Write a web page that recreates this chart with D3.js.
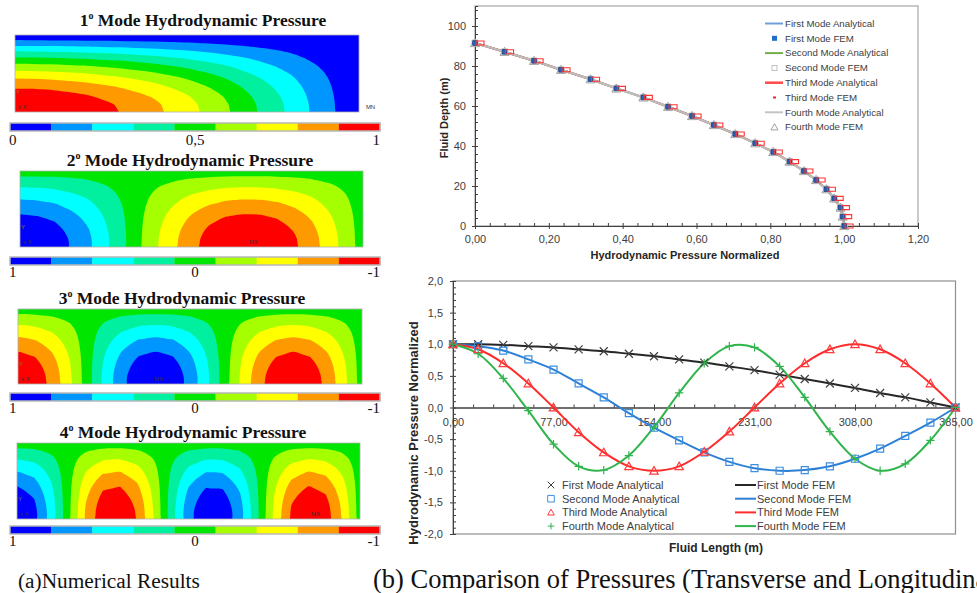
<!DOCTYPE html>
<html>
<head>
<meta charset="utf-8">
<script src="https://cdnjs.cloudflare.com/ajax/libs/d3/7.8.5/d3.min.js"></script>
<style>
  body { margin: 0; background: #fff; }
  svg { display: block; background: #fff; }
  .serif { font-family: "Liberation Serif", "Times New Roman", serif; }
  .sans { font-family: "Liberation Sans", Arial, sans-serif; }
</style>
</head>
<body>
<svg id="fig" width="977" height="593"></svg>
<script>

// ---- data ----

// vertical profile (top right chart): height above bed (m) and normalized pressure
var depth = [91.5, 87.1, 82.6, 78.1, 73.4, 68.8, 64.3, 59.6, 55.0, 50.5, 46.0,
             41.4, 37.0, 32.2, 27.5, 23.0, 18.4, 13.8, 9.2, 4.7, 0.0];
var depthPressure = [0.00, 0.08, 0.16, 0.233, 0.313, 0.383, 0.456, 0.523, 0.588, 0.647, 0.705,
                     0.759, 0.808, 0.852, 0.891, 0.924, 0.952, 0.973, 0.990, 0.996, 1.00];

// longitudinal profiles (bottom right chart)
var lengthX = [0, 19.25, 38.5, 57.75, 77, 96.25, 115.5, 134.75, 154, 173.25, 192.5,
               211.75, 231, 250.25, 269.5, 288.75, 308, 327.25, 346.5, 365.75, 385];
var longMode1 = [1.00, 1.00, 0.99, 0.97, 0.95, 0.92, 0.89, 0.85, 0.81, 0.76, 0.71,
                 0.65, 0.59, 0.52, 0.45, 0.38, 0.31, 0.23, 0.16, 0.08, 0.00];
var longMode2 = [1.00, 0.97, 0.90, 0.76, 0.60, 0.38, 0.16, -0.09, -0.32, -0.52, -0.71,
                 -0.86, -0.96, -1.00, -0.99, -0.93, -0.81, -0.65, -0.45, -0.24, 0.00];
var longMode3 = [1.00, 0.92, 0.70, 0.38, 0.00, -0.39, -0.71, -0.93, -1.00, -0.93, -0.70,
                 -0.38, 0.00, 0.38, 0.70, 0.92, 1.00, 0.92, 0.70, 0.38, 0.00];
var longMode4 = [1.00, 0.85, 0.46, -0.05, -0.58, -0.93, -0.99, -0.76, -0.31, 0.23, 0.70,
                 0.97, 0.95, 0.65, 0.16, -0.38, -0.81, -1.00, -0.89, -0.52, 0.00];

// left panels: which mode, FE sign of the shape, colour bar ends (blue end, red end)
var panelModes = [longMode1, longMode2, longMode3, longMode4];
var panelNumbers = ["1", "2", "3", "4"];
var panelSigns = [1, 1, -1, 1];
var panelLegend = [[0, 1], [1, -1], [1, -1], [1, -1]];
var panelLabels = [["0", "0,5", "1"], ["1", "0", "-1"], ["1", "0", "-1"], ["1", "0", "-1"]];
var panelMarks = ["MN", "MX", "MN", "MX"];

// tick labels
var topXTicks = [0, 0.2, 0.4, 0.6, 0.8, 1.0, 1.2];
var topXLabels = ["0,00", "0,20", "0,40", "0,60", "0,80", "1,00", "1,20"];
var topYTicks = [0, 20, 40, 60, 80, 100];
var topYLabels = ["0", "20", "40", "60", "80", "100"];
var botXTicks = [0, 77, 154, 231, 308, 385];
var botXLabels = ["0,00", "77,00", "154,00", "231,00", "308,00", "385,00"];
var botYTicks = [-2, -1.5, -1, -0.5, 0, 0.5, 1, 1.5, 2];
var botYLabels = ["-2,0", "-1,5", "-1,0", "-0,5", "0,0", "0,5", "1,0", "1,5", "2,0"];

var topLegendNames = ["First Mode Analytical", "First Mode FEM", "Second Mode Analytical", "Second Mode FEM",
                      "Third Mode Analytical", "Third Mode FEM", "Fourth Mode Analytical", "Fourth Mode FEM"];
var botLegendLeft = ["First Mode Analytical", "Second Mode Analytical", "Third Mode Analytical", "Fourth Mode Analytical"];
var botLegendRight = ["First Mode FEM", "Second Mode FEM", "Third Mode FEM", "Fourth Mode FEM"];

// ---- layout / styles ----
var bandColors = ["#0000ff", "#0096ff", "#00ffff", "#00f0a0", "#00e600", "#a5ff00", "#ffff00", "#ff9900", "#ff0000"];
var panelLayout = [
  {x: 15, y: 35,  w: 344, h: 77, titleX: 203, titleY: 26,  barY: 123, labY: 145, markAt: 1.02},
  {x: 20, y: 171, w: 343, h: 76, titleX: 190, titleY: 166, barY: 257, labY: 277, markAt: 0.68},
  {x: 18, y: 309, w: 344, h: 75, titleX: 182, titleY: 304, barY: 393, labY: 413, markAt: 0.41},
  {x: 17, y: 443, w: 343, h: 76, titleX: 183, titleY: 438, barY: 526, labY: 546, markAt: 0.87}
];
var modeColors = ["#262626", "#2d80d6", "#ff2b2b", "#2fb54c"];

var svg = d3.select("#fig");

function markerPath(type, s) {
  if (type == "x") return "M" + (-s) + "," + (-s) + "L" + s + "," + s + "M" + (-s) + "," + s + "L" + s + "," + (-s);
  if (type == "plus") return "M" + (-s) + ",0L" + s + ",0M0," + (-s) + "L0," + s;
  if (type == "square") return "M" + (-s) + "," + (-s) + "h" + 2 * s + "v" + 2 * s + "h" + (-2 * s) + "Z";
  if (type == "tri") return "M0," + (-s) + "L" + s + "," + (s * 0.8) + "L" + (-s) + "," + (s * 0.8) + "Z";
  if (type == "dash") return "M1,-2h8v4h-8Z";
}

function styleAxis(g) {
  g.attr("font-family", "Liberation Sans, Arial, sans-serif").attr("font-size", 11);
  g.select(".domain").attr("stroke", "#404040");
  g.selectAll(".tick line").attr("stroke", "#404040");
  g.selectAll(".tick text").attr("fill", "#404040");
}

/* ---------- left: contour panels ---------- */

var nx = lengthX.length, ny = depthPressure.length;

panelLayout.forEach(function(p, k) {
  var g = svg.append("g");
  var mode = panelModes[k], lo = panelLegend[k][0], hi = panelLegend[k][1];

  // colour fraction (0 = blue end, 1 = red end) on the grid: rows = depth from surface, cols = length
  var t = [];
  for (var j = 0; j < ny; j++)
    for (var i = 0; i < nx; i++)
      t.push((panelSigns[k] * depthPressure[j] * mode[i] - lo) / (hi - lo));

  var sx = d3.scaleLinear().domain([0.5, nx - 0.5]).range([p.x, p.x + p.w]);
  var sy = d3.scaleLinear().domain([0.5, ny - 0.5]).range([p.y, p.y + p.h]);
  var contours = d3.contours().size([nx, ny])
      .thresholds([1, 2, 3, 4, 5, 6, 7, 8].map(function(b) { return b / 9 - 1e-9; }))(t);

  // rounded band outlines
  var ringLine = d3.line().curve(d3.curveCatmullRomClosed.alpha(0.5))
      .x(function(d) { return sx(d[0]); })
      .y(function(d) { return sy(d[1]); });
  function bandPath(c) {
    return c.coordinates.map(function(poly) {
      return poly.map(function(ring) { return ringLine(ring.slice(0, -1)); }).join("");
    }).join("");
  }

  svg.append("clipPath").attr("id", "clip" + k)
    .append("rect").attr("x", p.x).attr("y", p.y).attr("width", p.w).attr("height", p.h);

  var field = g.append("g").attr("clip-path", "url(#clip" + k + ")");
  field.append("rect").attr("x", p.x).attr("y", p.y).attr("width", p.w).attr("height", p.h)
      .attr("fill", bandColors[0]);
  field.selectAll("path").data(contours).enter().append("path")
      .attr("d", bandPath)
      .attr("fill-rule", "evenodd")
      .attr("fill", function(d, i) { return bandColors[i + 1]; });

  g.append("rect").attr("x", p.x).attr("y", p.y).attr("width", p.w).attr("height", p.h)
      .attr("fill", "none").attr("stroke", "#b0b0b0").attr("stroke-width", 0.8);

  // small ANSYS marks
  g.append("text").attr("class", "sans").attr("x", p.x + 1).attr("y", p.y + p.h - 18)
      .attr("font-size", 6).attr("fill", "#8a8a00").text("Y");
  g.append("text").attr("class", "sans").attr("x", p.x + 3).attr("y", p.y + p.h - 3)
      .attr("font-size", 6).attr("fill", "#333").text("x  X");
  g.append("text").attr("class", "sans").attr("x", p.x + p.w * p.markAt).attr("y", p.y + p.h - 3)
      .attr("font-size", 6).attr("fill", "#333").attr("text-anchor", k == 0 ? "start" : "middle")
      .text(panelMarks[k]);

  // title
  var title = g.append("text").attr("class", "serif").attr("x", p.titleX).attr("y", p.titleY)
      .attr("text-anchor", "middle").attr("font-weight", "bold").attr("font-size", 17.5).attr("fill", "#111");
  title.append("tspan").text(panelNumbers[k]);
  title.append("tspan").attr("font-size", 10).attr("dy", -7).text("o");
  title.append("tspan").attr("dy", 7).text(" Mode Hydrodynamic Pressure");

  // colour bar
  var bx = d3.scaleBand().domain(d3.range(9)).range([10, 380]);
  g.selectAll(".band").data(bandColors).enter().append("rect")
      .attr("x", function(d, i) { return bx(i); }).attr("y", p.barY)
      .attr("width", bx.bandwidth() + 0.3).attr("height", 8)
      .attr("fill", function(d) { return d; });
  g.append("rect").attr("x", 10).attr("y", p.barY).attr("width", 370).attr("height", 8)
      .attr("fill", "none").attr("stroke", "#b8b8b8").attr("stroke-width", 1.5);

  var labs = panelLabels[k];
  var anchors = ["start", "middle", "end"], lx = [9, 195, 380];
  labs.forEach(function(s, i) {
    g.append("text").attr("class", "serif").attr("x", lx[i]).attr("y", p.labY)
        .attr("text-anchor", anchors[i]).attr("font-size", 15).attr("fill", "#111").text(s);
  });
});

/* ---------- top right: pressure along depth ---------- */

var tx = d3.scaleLinear().domain([0, 1.2]).range([475, 918]);
var ty = d3.scaleLinear().domain([0, 110]).range([226, 6]);
var gT = svg.append("g");

gT.append("rect").attr("x", tx(0)).attr("y", ty(110)).attr("width", tx(1.2) - tx(0)).attr("height", ty(0) - ty(110))
    .attr("fill", "none").attr("stroke", "#a6a6a6").attr("stroke-width", 1.2);

gT.append("g").attr("transform", "translate(0," + ty(0) + ")")
    .call(d3.axisBottom(tx).tickValues(d3.range(0, 1.2001, 0.04)).tickSize(-3).tickFormat(""))
    .call(styleAxis);
gT.append("g").attr("transform", "translate(0," + ty(0) + ")")
    .call(d3.axisBottom(tx).tickValues(topXTicks).tickSizeInner(3).tickSizeOuter(0).tickPadding(6)
        .tickFormat(function(d, i) { return topXLabels[i]; }))
    .call(styleAxis);
gT.append("g").attr("transform", "translate(" + tx(0) + ",0)")
    .call(d3.axisLeft(ty).tickValues(d3.range(0, 109, 4)).tickSize(-3).tickFormat(""))
    .call(styleAxis);
gT.append("g").attr("transform", "translate(" + tx(0) + ",0)")
    .call(d3.axisLeft(ty).tickValues(topYTicks).tickSizeInner(3).tickSizeOuter(0).tickPadding(6)
        .tickFormat(function(d, i) { return topYLabels[i]; }))
    .call(styleAxis);

gT.append("text").attr("class", "sans").attr("x", 685).attr("y", 259).attr("text-anchor", "middle")
    .attr("font-weight", "bold").attr("font-size", 11).attr("fill", "#262626")
    .text("Hydrodynamic Pressure Normalized");
gT.append("text").attr("class", "sans").attr("transform", "translate(448,118) rotate(-90)")
    .attr("text-anchor", "middle").attr("font-weight", "bold").attr("font-size", 11).attr("fill", "#262626")
    .text("Fluid Depth (m)");

var depthLine = d3.line()
    .x(function(d, i) { return tx(depthPressure[i]); })
    .y(function(d, i) { return ty(depth[i]); });

var topLines = [{c: "#5b93d6", w: 2}, {c: "#77b04f", w: 2}, {c: "#ff5252", w: 2}, {c: "#bdbdbd", w: 2.2}];
topLines.forEach(function(s) {
  gT.append("path").datum(depth).attr("d", depthLine)
      .attr("fill", "none").attr("stroke", s.c).attr("stroke-width", s.w);
});

var topMarks = [
  {type: "tri", s: 4.5, fill: "none", stroke: "#9c9c9c", sw: 1},
  {type: "square", s: 3, fill: "none", stroke: "#c4c4c4", sw: 1},
  {type: "square", s: 2.3, fill: "#2462b8", stroke: "#1c3c7c", sw: 0.8},
  {type: "dash", s: 0, fill: "none", stroke: "#ff3434", sw: 1.1}
];
topMarks.forEach(function(m) {
  gT.selectAll(null).data(depth).enter().append("path")
      .attr("transform", function(d, i) { return "translate(" + tx(depthPressure[i]) + "," + ty(d) + ")"; })
      .attr("d", markerPath(m.type, m.s))
      .attr("fill", m.fill).attr("stroke", m.stroke).attr("stroke-width", m.sw);
});

// legend
var tLeg = gT.append("g");
topLegendNames.forEach(function(name, i) {
  var y = 23.5 + i * 14.8;
  if (i == 0) tLeg.append("line").attr("x1", 765).attr("x2", 783).attr("y1", y).attr("y2", y).attr("stroke", "#6f9fd8").attr("stroke-width", 2);
  if (i == 1) tLeg.append("rect").attr("x", 772).attr("y", y - 2.5).attr("width", 5).attr("height", 5).attr("fill", "#1f6fc4");
  if (i == 2) tLeg.append("line").attr("x1", 765).attr("x2", 783).attr("y1", y).attr("y2", y).attr("stroke", "#72ad4a").attr("stroke-width", 2);
  if (i == 3) tLeg.append("rect").attr("x", 772).attr("y", y - 2.5).attr("width", 5).attr("height", 5).attr("fill", "none").attr("stroke", "#b0b0b0").attr("stroke-width", 0.8);
  if (i == 4) tLeg.append("line").attr("x1", 765).attr("x2", 783).attr("y1", y).attr("y2", y).attr("stroke", "#ff4a4a").attr("stroke-width", 2.5);
  if (i == 5) tLeg.append("rect").attr("x", 773).attr("y", y - 1).attr("width", 3).attr("height", 2).attr("fill", "#ff2020");
  if (i == 6) tLeg.append("line").attr("x1", 765).attr("x2", 783).attr("y1", y).attr("y2", y).attr("stroke", "#c4c4c4").attr("stroke-width", 2);
  if (i == 7) tLeg.append("path").attr("transform", "translate(774.5," + y + ")").attr("d", markerPath("tri", 3.5)).attr("fill", "none").attr("stroke", "#8c8c8c").attr("stroke-width", 0.8);
  tLeg.append("text").attr("class", "sans").attr("x", 785).attr("y", y).attr("dy", "0.35em")
      .attr("font-size", 9.7).attr("fill", "#404040").text(name);
});

/* ---------- bottom right: pressure along length ---------- */

var bxs = d3.scaleLinear().domain([0, 385]).range([453, 955.5]);
var bys = d3.scaleLinear().domain([-2, 2]).range([534, 281]);
var gB = svg.append("g");

gB.append("rect").attr("x", bxs(0)).attr("y", bys(2)).attr("width", bxs(385) - bxs(0)).attr("height", bys(-2) - bys(2))
    .attr("fill", "none").attr("stroke", "#8f8f8f").attr("stroke-width", 1.2);

gB.append("g").attr("transform", "translate(0," + bys(0) + ")")
    .call(d3.axisBottom(bxs).tickValues(d3.range(0, 385.1, 15.4)).tickSize(-3).tickFormat(""))
    .call(styleAxis);
gB.append("g").attr("transform", "translate(0," + bys(0) + ")")
    .call(d3.axisBottom(bxs).tickValues(botXTicks).tickSizeInner(3).tickSizeOuter(0).tickPadding(8)
        .tickFormat(function(d, i) { return botXLabels[i]; }))
    .call(styleAxis);
gB.append("g").attr("transform", "translate(" + bxs(0) + ",0)")
    .call(d3.axisLeft(bys).tickValues(d3.range(-2, 2.001, 0.1)).tickSize(-3).tickFormat(""))
    .call(styleAxis);
gB.append("g").attr("transform", "translate(" + bxs(0) + ",0)")
    .call(d3.axisLeft(bys).tickValues(botYTicks).tickSizeInner(3).tickSizeOuter(0).tickPadding(7)
        .tickFormat(function(d, i) { return botYLabels[i]; }))
    .call(styleAxis);

gB.append("text").attr("class", "sans").attr("x", 716).attr("y", 552).attr("text-anchor", "middle")
    .attr("font-weight", "bold").attr("font-size", 12).attr("fill", "#262626").text("Fluid Length (m)");
gB.append("text").attr("class", "sans").attr("transform", "translate(418,433) rotate(-90)")
    .attr("text-anchor", "middle").attr("font-weight", "bold").attr("font-size", 13).attr("fill", "#262626")
    .text("Hydrodynamic Pressure Normalized");

var longModes = [longMode1, longMode2, longMode3, longMode4];
var markTypes = ["x", "square", "tri", "plus"];
var markSizes = [4, 3.5, 4.2, 4.2];
var markColors = ["#404040", "#3c8fe0", "#ff3b3b", "#33b34f"];

longModes.forEach(function(vals, k) {
  var line = d3.line().curve(d3.curveCatmullRom)
      .x(function(d, i) { return bxs(lengthX[i]); })
      .y(function(d) { return bys(d); });
  gB.append("path").datum(vals).attr("d", line)
      .attr("fill", "none").attr("stroke", modeColors[k]).attr("stroke-width", 2);
});
longModes.forEach(function(vals, k) {
  gB.selectAll(null).data(vals).enter().append("path")
      .attr("transform", function(d, i) { return "translate(" + bxs(lengthX[i]) + "," + bys(d) + ")"; })
      .attr("d", markerPath(markTypes[k], markSizes[k]))
      .attr("fill", "none").attr("stroke", markColors[k]).attr("stroke-width", 1.2);
});

// legend
var bLeg = gB.append("g");
botLegendLeft.forEach(function(name, i) {
  var y = 485 + i * 13.7;
  bLeg.append("path").attr("transform", "translate(551," + y + ")").attr("d", markerPath(markTypes[i], 3.3))
      .attr("fill", "none").attr("stroke", markColors[i]).attr("stroke-width", 1);
  bLeg.append("text").attr("class", "sans").attr("x", 562).attr("y", y).attr("dy", "0.35em")
      .attr("font-size", 11).attr("fill", "#404040").text(name);
});
botLegendRight.forEach(function(name, i) {
  var y = 485 + i * 13.7;
  bLeg.append("line").attr("x1", 735).attr("x2", 756).attr("y1", y).attr("y2", y)
      .attr("stroke", modeColors[i]).attr("stroke-width", 2);
  bLeg.append("text").attr("class", "sans").attr("x", 757).attr("y", y).attr("dy", "0.35em")
      .attr("font-size", 11).attr("fill", "#404040").text(name);
});

/* ---------- captions ---------- */

function caption(x, y, full, prefix, width) {
  var t = svg.append("text").attr("class", "serif").attr("x", x).attr("y", y)
      .attr("font-size", 20).attr("fill", "#111").text(prefix);
  var w = t.node().getComputedTextLength();
  t.attr("font-size", 20 * width / w).text(full);
}
caption(18, 588, "(a)Numerical Results", "(a)Numerical Results", 182);
caption(373, 588, "(b) Comparison of Pressures (Transverse and Longitudinal)",
        "(b) Comparison of Pressures (Transverse and Longitudin", 603);

</script>
</body>
</html>
